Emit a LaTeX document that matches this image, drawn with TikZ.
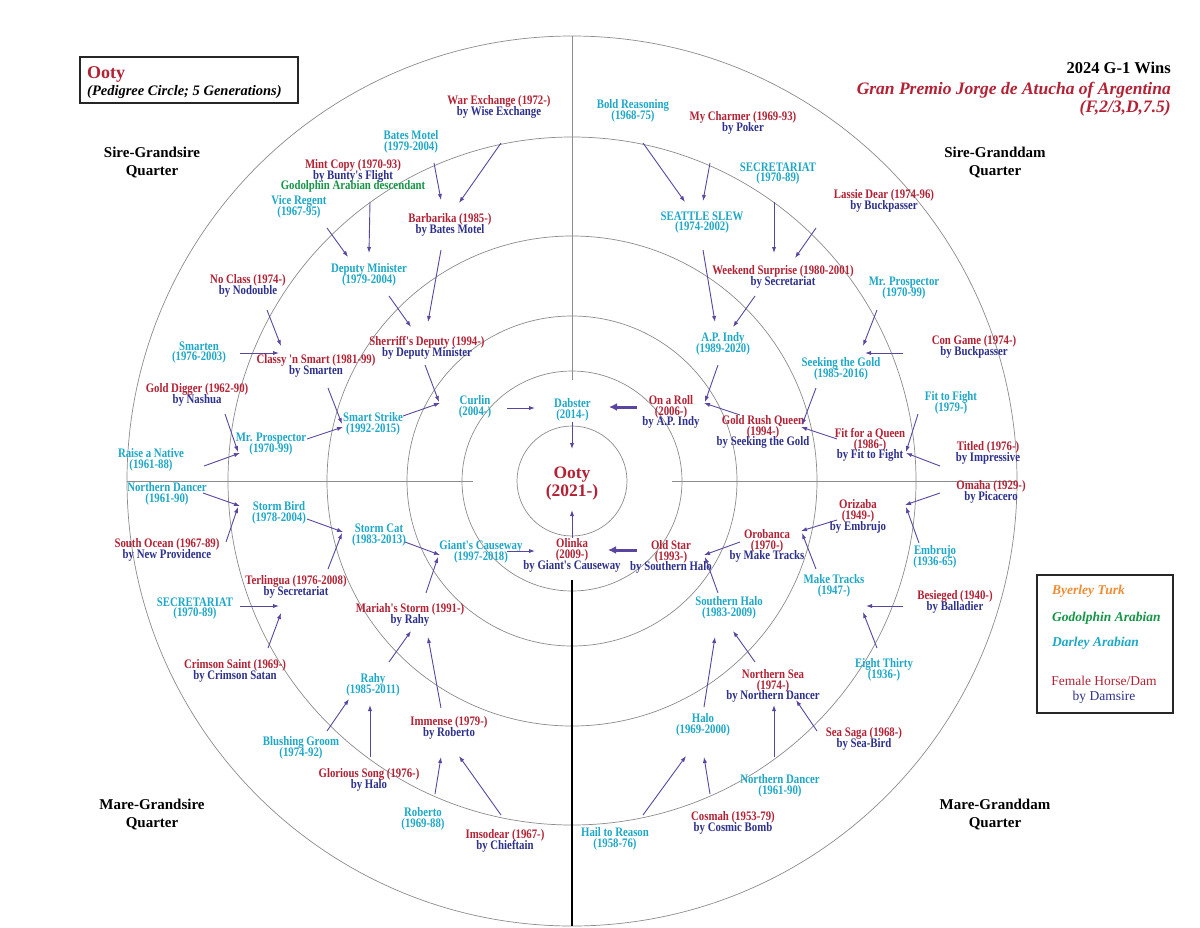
\documentclass[tikz,border=0pt]{standalone}
\usepackage{fontspec}
\setmainfont{Liberation Serif}
\newfontfamily\cf[FakeStretch=0.83]{Liberation Serif}
\usetikzlibrary{arrows.meta,calc}
\definecolor{rd}{RGB}{178,34,52}
\definecolor{bl}{RGB}{46,49,140}
\definecolor{cy}{RGB}{30,168,200}
\definecolor{gr}{RGB}{20,150,70}
\definecolor{og}{RGB}{240,140,50}
\definecolor{ac}{RGB}{90,70,160}
\definecolor{rg}{RGB}{140,140,140}
\lineskiplimit=-30pt\relax
\newcommand\femTwo[2]{\textcolor{rd}{#1}\\\textcolor{bl}{#2}}
\newcommand\femThree[3]{\textcolor{rd}{#1}\\\textcolor{rd}{#2}\\\textcolor{bl}{#3}}
\tikzset{
  t/.style={font=\cf\bfseries\fontsize{13}{10.8}\selectfont, align=center, inner sep=0pt},
  s/.style={t, text=cy},
  quarter/.style={font=\bfseries\fontsize{15}{18}\selectfont, align=center, inner sep=0pt},
  ring/.style={draw=rg, line width=0.7pt},
  arr/.style={draw=ac, line width=0.9pt, -{Latex[length=6pt,width=4.2pt]}},
  barr/.style={draw=ac, line width=3pt, -{Latex[length=8pt,width=8pt]}},
  frame/.style={draw=black!85, line width=1.4pt}
}
\begin{document}
\begin{tikzpicture}[x=1pt,y=-1pt]
\useasboundingbox (0,0) rectangle (1200,927);
\fill[white] (0,0) rectangle (1200,927);
\coordinate (c) at (572,481);
% rings
\foreach \r in {55,110,165,245,344,445} \draw[ring] (c) circle[radius=\r pt];
% quadrant lines
\draw[ring] ($(c)+(0,-445)$) -- ($(c)+(0,-101)$);
\draw[ring] ($(c)+(-445,0)$) -- ($(c)+(-99,0)$);
\draw[ring] ($(c)+(100,0)$) -- ($(c)+(445,0)$);
\draw[black, line width=1.6pt] ($(c)+(0,99)$) -- ($(c)+(0,445)$);

% title box
\draw[frame] (80,57) rectangle (298,103);
\node[anchor=base west, inner sep=0pt, text=rd, font=\bfseries\fontsize{18}{20}\selectfont] (tname) at (87,78) {Ooty};
\node[anchor=base west, inner sep=0pt, font=\bfseries\itshape\fontsize{14.5}{16}\selectfont] (tsub) at (87,95) {(Pedigree Circle; 5 Generations)};

% top right title
\node[anchor=base east, inner sep=0pt, font=\bfseries\fontsize{16.5}{18}\selectfont] (g1) at (1171,73.5) {2024 G-1 Wins};
\node[anchor=base east, inner sep=0pt, text=rd, font=\bfseries\itshape\fontsize{17.5}{19}\selectfont] (race) at (1171,94) {Gran Premio Jorge de Atucha of Argentina};
\node[anchor=base east, inner sep=0pt, text=rd, font=\bfseries\itshape\fontsize{17.5}{19}\selectfont] (cond) at (1171,112.5) {(F,2/3,D,7.5)};

% quarter labels
\node[quarter] (q1) at (152,163) {Sire-Grandsire\\Quarter};
\node[quarter] (q2) at (995,163) {Sire-Granddam\\Quarter};
\node[quarter] (q3) at (152,815) {Mare-Grandsire\\Quarter};
\node[quarter] (q4) at (995,815) {Mare-Granddam\\Quarter};

% legend
\draw[frame] (1037,575) rectangle (1173,713);
\node[anchor=west, inner sep=0pt, text=og, font=\bfseries\itshape\fontsize{13.5}{15}\selectfont] (lg1) at (1052,591) {Byerley Turk};
\node[anchor=west, inner sep=0pt, text=gr, font=\bfseries\itshape\fontsize{13.5}{15}\selectfont] (lg2) at (1052,618) {Godolphin Arabian};
\node[anchor=west, inner sep=0pt, text=cy, font=\bfseries\itshape\fontsize{13.5}{15}\selectfont] (lg3) at (1052,643) {Darley Arabian};
\node[align=center, inner sep=0pt, font=\fontsize{13.5}{14.5}\selectfont] (lg4) at (1104,690) {\textcolor{rd}{Female Horse/Dam}\\\textcolor{bl}{by Damsire}};

% centre
\node[align=center, inner sep=0pt, text=rd, font=\bfseries\fontsize{17.5}{18}\selectfont] (ooty) at (572,484) {Ooty\\(2021-)};
\node[s] (dab) at (572.5,409.5) {Dabster\\(2014-)};
\node[t] (oli) at (572,555.5) {\femThree{Olinka}{(2009-)}{by Giant's Causeway}};
\node[t] (oldstar) at (671,557) {\femThree{Old Star}{(1993-)}{by Southern Halo}};
\node[t] (onaroll) at (671,412) {\femThree{On a Roll}{(2006-)}{by A.P. Indy}};
\node[s] (curlin) at (475,406.5) {Curlin\\(2004-)};
\node[s] (giants) at (481,551.5) {Giant's Causeway\\(1997-2018)};

% generation 2
\node[t] (sherriff) at (427,348) {\femTwo{Sherriff's Deputy (1994-)}{by Deputy Minister}};
\node[s] (smartstrike) at (373,424) {Smart Strike\\(1992-2015)};
\node[s] (apindy) at (723,344) {A.P. Indy\\(1989-2020)};
\node[t] (goldrush) at (763,432) {\femThree{Gold Rush Queen}{(1994-)}{by Seeking the Gold}};
\node[s] (stormcat) at (379,535) {Storm Cat\\(1983-2013)};
\node[t] (mariah) at (410,614.5) {\femTwo{Mariah's Storm (1991-)}{by Rahy}};
\node[s] (southernhalo) at (729,607.5) {Southern Halo\\(1983-2009)};
\node[t] (orobanca) at (767,546) {\femThree{Orobanca}{(1970-)}{by Make Tracks}};

% generation 3
\node[s] (deputy) at (369,274.5) {Deputy Minister\\(1979-2004)};
\node[t] (barb) at (450,224.5) {\femTwo{Barbarika (1985-)}{by Bates Motel}};
\node[t] (classy) at (316,366) {\femTwo{Classy 'n Smart (1981-99)}{by Smarten}};
\node[s] (mrprosL) at (271,444.5) {Mr. Prospector\\(1970-99)};
\node[s] (seattle) at (702,222.5) {SEATTLE SLEW\\(1974-2002)};
\node[t] (weekend) at (783,277) {\femTwo{Weekend Surprise (1980-2001)}{by Secretariat}};
\node[s] (seeking) at (841,368.5) {Seeking the Gold\\(1985-2016)};
\node[t] (fitq) at (870,445) {\femThree{Fit for a Queen}{(1986-)}{by Fit to Fight}};
\node[s] (stormbird) at (279,512.5) {Storm Bird\\(1978-2004)};
\node[t] (terlingua) at (296,586.5) {\femTwo{Terlingua (1976-2008)}{by Secretariat}};
\node[s] (rahy) at (373,684.5) {Rahy\\(1985-2011)};
\node[t] (immense) at (449,727.5) {\femTwo{Immense (1979-)}{by Roberto}};
\node[s] (halo) at (703,724.5) {Halo\\(1969-2000)};
\node[t] (northernsea) at (773,686) {\femThree{Northern Sea}{(1974-)}{by Northern Dancer}};
\node[s] (maketracks) at (834,585.5) {Make Tracks\\(1947-)};
\node[t] (orizaba) at (858,516.5) {\femThree{Orizaba}{(1949-)}{by Embrujo}};

% generation 4
\node[t] (war) at (499,107) {\femTwo{War Exchange (1972-)}{by Wise Exchange}};
\node[s] (bates) at (411,142) {Bates Motel\\(1979-2004)};
\node[t] (mint) at (353,176) {\textcolor{rd}{Mint Copy (1970-93)}\\\textcolor{bl}{by Bunty's Flight}\\\textcolor{gr}{Godolphin Arabian descendant}};
\node[s] (vice) at (299,207) {Vice Regent\\(1967-95)};
\node[t] (noclass) at (248,285.5) {\femTwo{No Class (1974-)}{by Nodouble}};
\node[s] (smarten) at (199,352.5) {Smarten\\(1976-2003)};
\node[t] (golddig) at (197,394.5) {\femTwo{Gold Digger (1962-90)}{by Nashua}};
\node[s] (raise) at (151,459.5) {Raise a Native\\(1961-88)};
\node[s] (boldr) at (633,110.5) {Bold Reasoning\\(1968-75)};
\node[t] (charmer) at (743,122.5) {\femTwo{My Charmer (1969-93)}{by Poker}};
\node[s] (secR) at (778,173.5) {SECRETARIAT\\(1970-89)};
\node[t] (lassie) at (884,201) {\femTwo{Lassie Dear (1974-96)}{by Buckpasser}};
\node[s] (mrprosR) at (904,288.5) {Mr. Prospector\\(1970-99)};
\node[t] (congame) at (974,346.5) {\femTwo{Con Game (1974-)}{by Buckpasser}};
\node[s] (fitfight) at (951,402.5) {Fit to Fight\\(1979-)};
\node[t] (titled) at (988,452.5) {\femTwo{Titled (1976-)}{by Impressive}};
\node[s] (ndL) at (167,493.5) {Northern Dancer\\(1961-90)};
\node[t] (southocean) at (167,549.5) {\femTwo{South Ocean (1967-89)}{by New Providence}};
\node[s] (secL) at (195,608.5) {SECRETARIAT\\(1970-89)};
\node[t] (crimson) at (235,670.5) {\femTwo{Crimson Saint (1969-)}{by Crimson Satan}};
\node[s] (blushing) at (301,747.5) {Blushing Groom\\(1974-92)};
\node[t] (glorious) at (369,780) {\femTwo{Glorious Song (1976-)}{by Halo}};
\node[s] (roberto) at (423,819) {Roberto\\(1969-88)};
\node[t] (imsodear) at (505,840.5) {\femTwo{Imsodear (1967-)}{by Chieftain}};
\node[s] (hail) at (615,838.5) {Hail to Reason\\(1958-76)};
\node[t] (cosmah) at (733,822.5) {\femTwo{Cosmah (1953-79)}{by Cosmic Bomb}};
\node[s] (ndR) at (780,785.5) {Northern Dancer\\(1961-90)};
\node[t] (seasaga) at (864,738.5) {\femTwo{Sea Saga (1968-)}{by Sea-Bird}};
\node[t] (omaha) at (991,491.5) {\femTwo{Omaha (1929-)}{by Picacero}};
\node[s] (embrujo) at (935,556.5) {Embrujo\\(1936-65)};
\node[t] (besieged) at (955,601.5) {\femTwo{Besieged (1940-)}{by Balladier}};
\node[s] (eight) at (884,669.5) {Eight Thirty\\(1936-)};

% connectors: centre
\draw[arr] ([shift={(-0.5,12.5)}]dab.center) -- ([shift={(0,-35)}]ooty.center);
\draw[arr] ([shift={(0,-17.5)}]oli.center) -- ([shift={(0,26)}]ooty.center);
\draw[barr] ([shift={(-34,-7)}]oldstar.center) -- ([shift={(36,-5.5)}]oli.center);
\draw[barr] ([shift={(-34,-5)}]onaroll.center) -- ([shift={(36.5,-2.5)}]dab.center);
\draw[arr] ([shift={(32,1.5)}]curlin.center) -- ([shift={(-37.5,-1.5)}]dab.center);
\draw[arr] ([shift={(26,-0.5)}]giants.center) -- ([shift={(-37,-4.5)}]oli.center);
% generation 2
\draw[arr] ([shift={(-2,17)}]sherriff.center) -- ([shift={(-36,-4.5)}]curlin.center);
\draw[arr] ([shift={(30,-8)}]smartstrike.center) -- ([shift={(-35,-3.5)}]curlin.center);
\draw[arr] ([shift={(-5,21)}]apindy.center) -- ([shift={(34,-10)}]onaroll.center);
\draw[arr] ([shift={(-23,-17)}]goldrush.center) -- ([shift={(33,-9)}]onaroll.center);
\draw[arr] ([shift={(26,7)}]stormcat.center) -- ([shift={(-41,3.5)}]giants.center);
\draw[arr] ([shift={(16,-21.5)}]mariah.center) -- ([shift={(-43,5.5)}]giants.center);
\draw[arr] ([shift={(-11,-14.5)}]southernhalo.center) -- ([shift={(34,0)}]oldstar.center);
\draw[arr] ([shift={(-27,-4)}]orobanca.center) -- ([shift={(33,-2)}]oldstar.center);
% generation 3
\draw[arr] ([shift={(20,21.5)}]deputy.center) -- ([shift={(-16,-21)}]sherriff.center);
\draw[arr] ([shift={(-9,25.5)}]barb.center) -- ([shift={(1,-26)}]sherriff.center);
\draw[arr] ([shift={(12,22)}]classy.center) -- ([shift={(-31,0)}]smartstrike.center);
\draw[arr] ([shift={(36,-5.5)}]mrprosL.center) -- ([shift={(-30,3)}]smartstrike.center);
\draw[arr] ([shift={(1,27.5)}]seattle.center) -- ([shift={(-8,-22)}]apindy.center);
\draw[arr] ([shift={(-28,19)}]weekend.center) -- ([shift={(10,-17)}]apindy.center);
\draw[arr] ([shift={(-25,19.5)}]seeking.center) -- ([shift={(39,-7)}]goldrush.center);
\draw[arr] ([shift={(-33,-6)}]fitq.center) -- ([shift={(38,-5)}]goldrush.center);
\draw[arr] ([shift={(28,6.5)}]stormbird.center) -- ([shift={(-36,-3)}]stormcat.center);
\draw[arr] ([shift={(32,-17.5)}]terlingua.center) -- ([shift={(-37,-2)}]stormcat.center);
\draw[arr] ([shift={(16,-22.5)}]rahy.center) -- ([shift={(1,16.5)}]mariah.center);
\draw[arr] ([shift={(-8,-19.5)}]immense.center) -- ([shift={(18,22.5)}]mariah.center);
\draw[arr] ([shift={(1,-17.5)}]halo.center) -- ([shift={(-14,29.5)}]southernhalo.center);
\draw[arr] ([shift={(-18,-24)}]northernsea.center) -- ([shift={(4,23.5)}]southernhalo.center);
\draw[arr] ([shift={(-18,-16.5)}]maketracks.center) -- ([shift={(35,-13)}]orobanca.center);
\draw[arr] ([shift={(-21,3.5)}]orizaba.center) -- ([shift={(34,-15)}]orobanca.center);
% generation 4
\draw[arr] ([shift={(23,21)}]bates.center) -- ([shift={(-9,-24.5)}]barb.center);
\draw[arr] ([shift={(2,36)}]war.center) -- ([shift={(9,-21.5)}]barb.center);
\draw[arr] ([shift={(17,26)}]mint.center) -- ([shift={(0,-21.5)}]deputy.center);
\draw[arr] ([shift={(28,21)}]vice.center) -- ([shift={(-21,-17.5)}]deputy.center);
\draw[arr] ([shift={(19,24.5)}]noclass.center) -- ([shift={(-35,-20)}]classy.center);
\draw[arr] ([shift={(41,0.5)}]smarten.center) -- ([shift={(-37,-13)}]classy.center);
\draw[arr] ([shift={(28,19.5)}]golddig.center) -- ([shift={(-33,7.5)}]mrprosL.center);
\draw[arr] ([shift={(53,6.5)}]raise.center) -- ([shift={(-31,8.5)}]mrprosL.center);
\draw[arr] ([shift={(10,32.5)}]boldr.center) -- ([shift={(-17,-20.5)}]seattle.center);
\draw[arr] ([shift={(-33,40.5)}]charmer.center) -- ([shift={(1,-21.5)}]seattle.center);
\draw[arr] ([shift={(-4,28.5)}]secR.center) -- ([shift={(-9,-24)}]weekend.center);
\draw[arr] ([shift={(-68,27)}]lassie.center) -- ([shift={(12,-19)}]weekend.center);
\draw[arr] ([shift={(-27,21.5)}]mrprosR.center) -- ([shift={(22,-22.5)}]seeking.center);
\draw[arr] ([shift={(-71,6.5)}]congame.center) -- ([shift={(24,-15.5)}]seeking.center);
\draw[arr] ([shift={(-33,11.5)}]fitfight.center) -- ([shift={(36,7)}]fitq.center);
\draw[arr] ([shift={(-48,13.5)}]titled.center) -- ([shift={(36,8)}]fitq.center);
\draw[arr] ([shift={(36,-0.5)}]ndL.center) -- ([shift={(-39,-6.5)}]stormbird.center);
\draw[arr] ([shift={(59,-7.5)}]southocean.center) -- ([shift={(-41,-5.5)}]stormbird.center);
\draw[arr] ([shift={(45,-2.5)}]secL.center) -- ([shift={(-17,19.5)}]terlingua.center);
\draw[arr] ([shift={(33,-22.5)}]crimson.center) -- ([shift={(-15,26.5)}]terlingua.center);
\draw[arr] ([shift={(26,-16.5)}]blushing.center) -- ([shift={(-24,14.5)}]rahy.center);
\draw[arr] ([shift={(1,-23)}]glorious.center) -- ([shift={(-3,20.5)}]rahy.center);
\draw[arr] ([shift={(12,-25)}]roberto.center) -- ([shift={(-8,29.5)}]immense.center);
\draw[arr] ([shift={(-4,-25.5)}]imsodear.center) -- ([shift={(10,28.5)}]immense.center);
\draw[arr] ([shift={(28,-23.5)}]hail.center) -- ([shift={(-17,31.5)}]halo.center);
\draw[arr] ([shift={(-23,-28.5)}]cosmah.center) -- ([shift={(1,32.5)}]halo.center);
\draw[arr] ([shift={(-6,-28.5)}]ndR.center) -- ([shift={(1,19)}]northernsea.center);
\draw[arr] ([shift={(-47,-7.5)}]seasaga.center) -- ([shift={(23,14)}]northernsea.center);
\draw[arr] ([shift={(-51,1.5)}]omaha.center) -- ([shift={(47,-11.5)}]orizaba.center);
\draw[arr] ([shift={(-16,-13.5)}]embrujo.center) -- ([shift={(48,-9.5)}]orizaba.center);
\draw[arr] ([shift={(-52,4.5)}]besieged.center) -- ([shift={(32,20.5)}]maketracks.center);
\draw[arr] ([shift={(-7,-21.5)}]eight.center) -- ([shift={(29,26.5)}]maketracks.center);
\end{tikzpicture}
\end{document}
